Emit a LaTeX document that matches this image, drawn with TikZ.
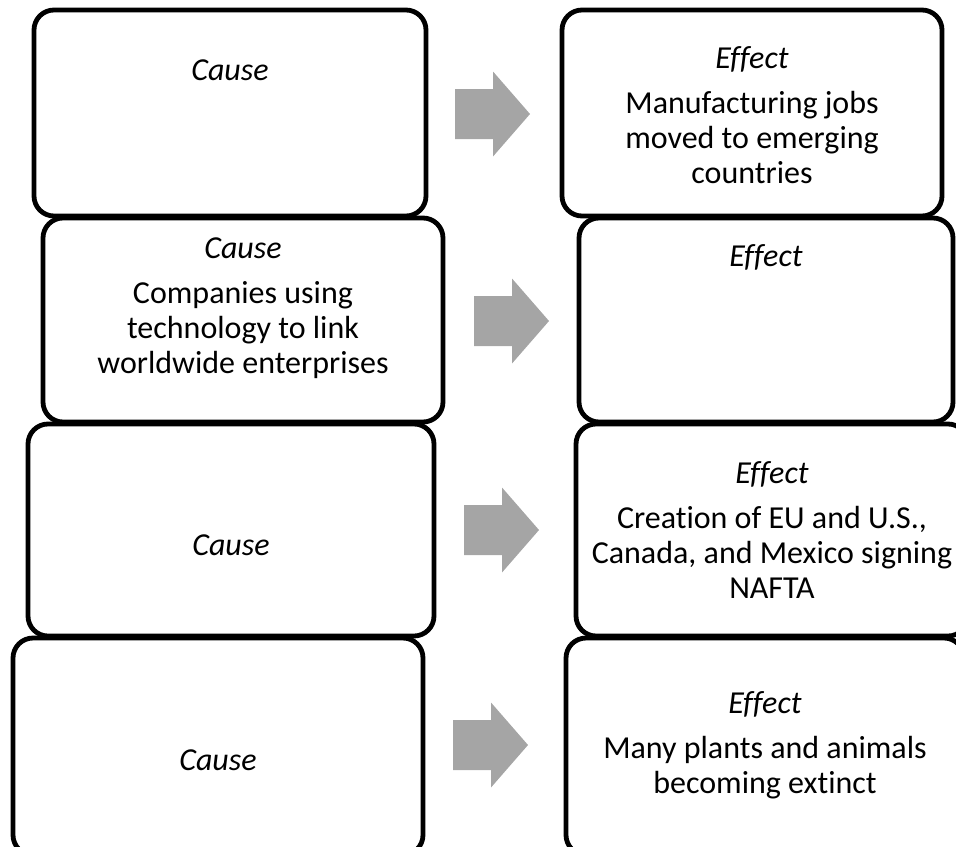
\documentclass[tikz,border=0pt]{standalone}
\usepackage{fontspec}
\setmainfont{Carlito}[Ligatures=NoCommon]
\usetikzlibrary{positioning}

\definecolor{arrowgray}{HTML}{A5A5A5}

\tikzset{
    box/.style={draw, line width=2.4pt, rounded corners=10pt, inner sep=0pt},
    boxtext/.style={align=center, font=\fontsize{16}{17.5}\selectfont, inner sep=0pt},
    bigarrow/.style={fill=arrowgray}
}

\begin{document}
\begin{tikzpicture}[x=0.5pt, y=-0.5pt]
    % Frame (the outer boxes are cut at the page edge)
    \useasboundingbox (0,0) rectangle (956,846);
    \clip (0,0) rectangle (956,846);

    % Cause boxes
    \node[box, minimum width=196pt, minimum height=103pt] (cause1) at (230,113) {};
    \node[box, minimum width=200pt, minimum height=102pt] (cause2) at (243,320) {};
    \node[box, minimum width=203pt, minimum height=106pt] (cause3) at (231,530) {};
    \node[box, minimum width=205pt, minimum height=108.5pt] (cause4) at (218,746.5) {};

    % Effect boxes
    \node[box, minimum width=190pt, minimum height=103pt] (effect1) at (752,113) {};
    \node[box, minimum width=187pt, minimum height=102pt] (effect2) at (766,320) {};
    \node[box, minimum width=196pt, minimum height=106pt] (effect3) at (772,530) {};
    \node[box, minimum width=199pt, minimum height=108.5pt] (effect4) at (765,746.5) {};

    % Texts
    \node[boxtext] (cause1txt) at (230,70) {\textit{Cause}};
    \node[boxtext] (cause2txt) at (243,308) {\textit{Cause}\\[5pt]
        Companies using\\ technology to link\\ worldwide enterprises};
    \node[boxtext] (cause3txt) at (231,545) {\textit{Cause}};
    \node[boxtext] (cause4txt) at (218,760) {\textit{Cause}};

    \node[boxtext] (effect1txt) at (752,115) {\textit{Effect}\\[5pt]
        Manufacturing jobs\\ moved to emerging\\ countries};
    \node[boxtext] (effect2txt) at (766,257) {\textit{Effect}};
    \node[boxtext] (effect3txt) at (772,530) {\textit{Effect}\\[5pt]
        Creation of EU and U.S.,\\ Canada, and Mexico signing\\ NAFTA};
    \node[boxtext] (effect4txt) at (765,745) {\textit{Effect}\\[5pt]
        Many plants and animals\\ becoming extinct};

    % Block arrows between the boxes
    \foreach \ax/\ay in {455/114, 474/321, 464/530, 453/745}
        \fill[bigarrow] (\ax,\ay-25) -- ++(38,0) -- ++(0,-17.5) -- (\ax+75,\ay)
            -- (\ax+38,\ay+42.5) -- ++(0,-17.5) -- (\ax,\ay+25) -- cycle;
\end{tikzpicture}
\end{document}
